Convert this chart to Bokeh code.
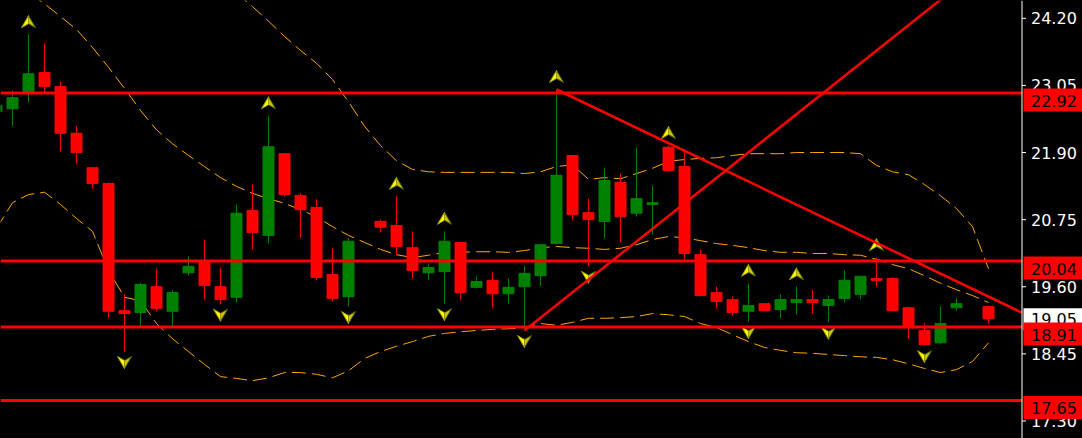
import math
from bokeh.plotting import figure
from bokeh.models import Range1d, ColumnDataSource, GlobalInlineStyleSheet
from bokeh.core.properties import value
from bokeh.embed import file_html
from bokeh.resources import INLINE

nan = float("nan")

# ---------------- data ----------------
bar_index = list(range(-1, 62))

open_ = [22.60, 22.65, 22.93, 23.27, 23.03, 22.23, 21.64, 21.37, 19.19, 19.16,
         19.60, 19.18, 19.84, 20.02, 19.60, 19.42, 20.91, 20.48, 21.88, 21.16,
         20.96, 19.81, 19.43, nan, 20.72, 20.65, 20.27, 19.84, 19.86, 20.36,
         19.59, 19.71, 19.48, 19.60, 19.79, 20.34, 21.85, 20.87, 20.72, 21.39,
         20.86, 21.01, 21.99, 21.66, 20.15, 19.50, 19.38, 19.18, 19.31, 19.21,
         19.33, 19.38, 19.28, 19.40, 19.47, 19.74, 19.74, 19.24, 18.85, 18.64,
         19.24, nan, 19.26]
close = [22.71, 22.84, 23.25, 23.03, 22.23, 21.90, 21.37, 19.18, 19.14, 19.64,
         19.23, 19.50, 19.95, 19.62, 19.38, 20.86, 20.53, 22.00, 21.18, 20.92,
         19.76, 19.40, 20.38, nan, 20.62, 20.29, 19.88, 19.93, 20.38, 19.50,
         19.69, 19.48, 19.59, 19.83, 20.32, 21.51, 20.84, 20.75, 21.42, 20.80,
         21.11, 21.04, 21.59, 20.17, 19.45, 19.35, 19.16, 19.28, 19.19, 19.38,
         19.38, 19.33, 19.38, 19.71, 19.78, 19.71, 19.19, 18.90, 18.61, 18.97,
         19.31, nan, 19.05]
high = [22.74, 22.96, 23.92, 23.77, 23.12, 22.35, 21.64, 21.39, 19.47, 19.67,
        19.91, 19.54, 20.12, 20.41, 19.93, 21.01, 21.35, 22.53, 21.88, 21.20,
        21.10, 20.26, 20.44, nan, 20.75, 21.15, 20.55, 20.00, 20.55, 20.36,
        19.78, 19.86, 19.74, 19.95, 20.32, 22.98, 21.85, 21.11, 21.63, 21.54,
        21.99, 21.33, 22.02, 21.90, 20.24, 19.60, 19.43, 19.66, 19.31, 19.47,
        19.60, 19.55, 19.45, 19.88, 19.78, 20.10, 19.76, 19.26, 18.97, 19.26,
        19.40, nan, 19.28]
low = [22.57, 22.36, 22.77, 22.93, 21.92, 21.71, 21.28, 19.07, 18.49, 18.94,
       19.18, 18.94, 19.79, 19.38, 19.30, 19.33, 20.24, 20.34, 21.15, 20.44,
       19.71, 19.35, 19.26, nan, 20.53, 20.14, 19.74, 19.71, 19.31, 19.38,
       19.57, 19.24, 19.31, 18.85, 19.62, 20.32, 20.74, 19.95, 20.43, 20.36,
       20.80, 20.50, 21.59, 20.07, 19.43, 19.23, 19.11, 19.00, 19.19, 19.07,
       19.12, 19.14, 18.99, 19.33, 19.38, 19.60, 19.18, 18.71, 18.59, 18.61,
       19.19, nan, 18.97]

bb_upper = [nan] * 14 + [
    24.85, 24.63, 24.40, 24.15, 23.89, 23.65, 23.43, 23.15, 22.77, 22.35,
    22.02, 21.76, 21.61, 21.57, 21.56, 21.56, 21.56, 21.56, 21.56, 21.54,
    21.57, 21.66, 21.69, 21.44, 21.47, 21.45, 21.54, 21.63, 21.75, 21.78,
    21.80, 21.81, 21.85, 21.88, 21.88, 21.88, 21.90, 21.90, 21.90, 21.90,
    21.88, 21.68, 21.57, 21.52, 21.35, 21.16, 20.94, 20.63, 19.91]
bb_middle = [24.99, 24.80, 24.64, 24.45, 24.23, 24.01, 23.70, 23.36, 23.00, 22.62,
             22.29, 22.05, 21.85, 21.66, 21.47, 21.32, 21.20, 21.11, 21.03, 20.92,
             20.80, 20.63, 20.48, 20.36, 20.24, 20.15, 20.10, 20.14, 20.19, 20.19,
             20.20, 20.20, 20.19, 20.22, 20.27, 20.29, 20.27, 20.26, 20.24, 20.26,
             20.32, 20.41, 20.46, 20.44, 20.39, 20.34, 20.31, 20.27, 20.22, 20.19,
             20.19, 20.17, 20.17, 20.15, 20.14, 20.07, 19.98, 19.91, 19.79, 19.66,
             19.55, 19.45, 19.33]
bb_lower = [20.60, 21.04, 21.18, 21.22, 21.01, 20.77, 20.55, 19.88, 19.42, 19.36,
            18.97, 18.71, 18.49, 18.27, 18.06, 18.03, 17.99, 18.04, 18.13, 18.13,
            18.10, 18.04, 18.16, 18.37, 18.49, 18.58, 18.66, 18.75, 18.80, 18.83,
            18.85, 18.87, 18.88, 18.90, 18.97, 18.94, 18.99, 19.06, 19.06, 19.07,
            19.09, 19.14, 19.12, 19.09, 18.97, 18.90, 18.78, 18.66, 18.56, 18.51,
            18.47, 18.46, 18.44, 18.42, 18.40, 18.39, 18.35, 18.28, 18.20, 18.13,
            18.18, 18.32, 18.64]

fractal_up_bars = [1, 16, 24, 27, 34, 41, 46, 49, 54]
fractal_down_bars = [7, 13, 21, 27, 32, 36, 46, 51, 57]

level_prices = [22.92, 20.04, 18.91, 17.65]
level_labels = ["22.92", "20.04", "18.91", "17.65"]
bid_price = 19.05
bid_label = "19.05"

trend_down = [(34, 22.98), (41, 22.06)]   # anchor points (bar, price)
trend_up = [(32, 18.85), (42, 21.03)]

tick_values = [17.30, 18.45, 19.60, 20.75, 21.90, 23.05, 24.20]
tick_labels = ["17.30", "18.45", "19.60", "20.75", "21.90", "23.05", "24.20"]

# ---------------- figure ----------------
W, H = 1082, 438
BAR_PX = 16.0
X0 = -0.75
X_RIGHT = X0 + W / BAR_PX           # right edge of the canvas in bar units
X_AXIS = X0 + 1021.5 / BAR_PX       # price-scale line
Y0, Y1 = 17.0, 24.505
PPU = H / (Y1 - Y0)                 # pixels per price unit
px = lambda n: n / BAR_PX           # horizontal pixels -> bar units
py = lambda n: n / PPU              # vertical pixels -> price units

p = figure(width=W, height=H, output_backend="svg", toolbar_location=None, tools="",
           x_range=Range1d(X0, X_RIGHT), y_range=Range1d(Y0, Y1),
           x_axis_location=None, y_axis_location=None,
           background_fill_color="black", border_fill_color="black",
           outline_line_color=None, min_border=0)
p.stylesheets = [GlobalInlineStyleSheet(css="html,body{margin:0;padding:0;background:#000;overflow:hidden;}")]
p.grid.visible = False

up_color = "#008000"
dn_color = "#FF0000"
colors = [up_color if (c >= o) else dn_color for o, c in zip(open_, close)]
src = ColumnDataSource(dict(
    x=bar_index, o=open_, c=close, h=high, l=low,
    top=[max(o, c) if not math.isnan(o) else nan for o, c in zip(open_, close)],
    bot=[min(o, c) if not math.isnan(o) else nan for o, c in zip(open_, close)],
    color=colors))

# Bollinger bands
for band in (bb_upper, bb_middle, bb_lower):
    p.line(bar_index, band, line_color="#FFA500", line_width=1, line_dash="14 6")

# candles
p.segment(x0="x", y0="h", x1="x", y1="l", color="color", line_width=1, source=src)
p.vbar(x="x", top="top", bottom="bot", width=px(11), fill_color="color",
       line_color="color", line_width=1, source=src)

# fractal arrows (arrowheads with a notch; left half bright, right half shaded)
pos = {b: i for i, b in enumerate(bar_index)}

def arrow_halves(xc, yc, direction):
    d = direction  # +1 up, -1 down
    tip = (xc, yc + d * py(6))
    left = (xc - px(7), yc - d * py(6))
    right = (xc + px(7), yc - d * py(6))
    notch = (xc, yc - d * py(2))
    lh = ([tip[0], left[0], notch[0]], [tip[1], left[1], notch[1]])
    rh = ([tip[0], notch[0], right[0]], [tip[1], notch[1], right[1]])
    return lh, rh

lxs, lys, rxs, rys = [], [], [], []
for b in fractal_up_bars:
    lh, rh = arrow_halves(b, high[pos[b]] + py(13), +1)
    lxs.append(lh[0]); lys.append(lh[1]); rxs.append(rh[0]); rys.append(rh[1])
for b in fractal_down_bars:
    lh, rh = arrow_halves(b, low[pos[b]] - py(11), -1)
    lxs.append(lh[0]); lys.append(lh[1]); rxs.append(rh[0]); rys.append(rh[1])
p.patches(rxs, rys, fill_color="#C8C800", line_color="#5E5E00", line_width=1)
p.patches(lxs, lys, fill_color="#FFFF00", line_color="#9A9A00", line_width=1)

# trend lines (rays)
def ray(pts, x_end):
    (x0, y0), (x1, y1) = pts
    slope = (y1 - y0) / (x1 - x0)
    return [x0, x_end], [y0, y0 + slope * (x_end - x0)]

tx, ty = ray(trend_down, X_AXIS)
p.line(tx, ty, line_color="#FF0000", line_width=2.5)
tx, ty = ray(trend_up, 60)
p.line(tx, ty, line_color="#FF0000", line_width=2.5)

# horizontal levels
p.segment(x0=[X0] * len(level_prices), y0=level_prices,
          x1=[X_AXIS] * len(level_prices), y1=level_prices,
          line_color="#FF0000", line_width=3)

# price scale (drawn at the right edge of the chart)
p.rect(x=[(X_AXIS + X_RIGHT) / 2], y=[(Y0 + Y1) / 2], width=[X_RIGHT - X_AXIS],
       height=[Y1 - Y0], fill_color="black", line_color=None)
p.segment(x0=[X_AXIS], y0=[Y0], x1=[X_AXIS], y1=[Y1], line_color="white", line_width=1)
p.segment(x0=[X_AXIS] * len(tick_values), y0=tick_values,
          x1=[X_AXIS + px(4)] * len(tick_values), y1=tick_values,
          line_color="white", line_width=1)
p.text(x=[X_AXIS + px(9)] * len(tick_values), y=tick_values, text=tick_labels,
       text_color="white", text_font=value("DejaVu Sans"), text_font_size="16px",
       text_align="left", text_baseline="middle")

# bid label
p.quad(left=[X_AXIS + px(1.5)], right=[X_RIGHT], top=[bid_price + py(10.5)],
       bottom=[bid_price - py(11.5)], fill_color="white", line_color=None)
p.text(x=[X_AXIS + px(9)], y=[bid_price], text=[bid_label], text_color="black",
       text_font=value("DejaVu Sans"), text_font_size="16px",
       text_align="left", text_baseline="middle")

# level labels
n = len(level_prices)
p.quad(left=[X_AXIS + px(1.5)] * n, right=[X_RIGHT] * n,
       top=[v + py(4.5) for v in level_prices], bottom=[v - py(18.5) for v in level_prices],
       fill_color="#FF0000", line_color=None)
p.text(x=[X_AXIS + px(9)] * n, y=[v - py(7.5) for v in level_prices], text=level_labels,
       text_color="black", text_font=value("DejaVu Sans"), text_font_size="16px",
       text_align="left", text_baseline="middle")

open("out.html", "w").write(file_html(p, INLINE))
